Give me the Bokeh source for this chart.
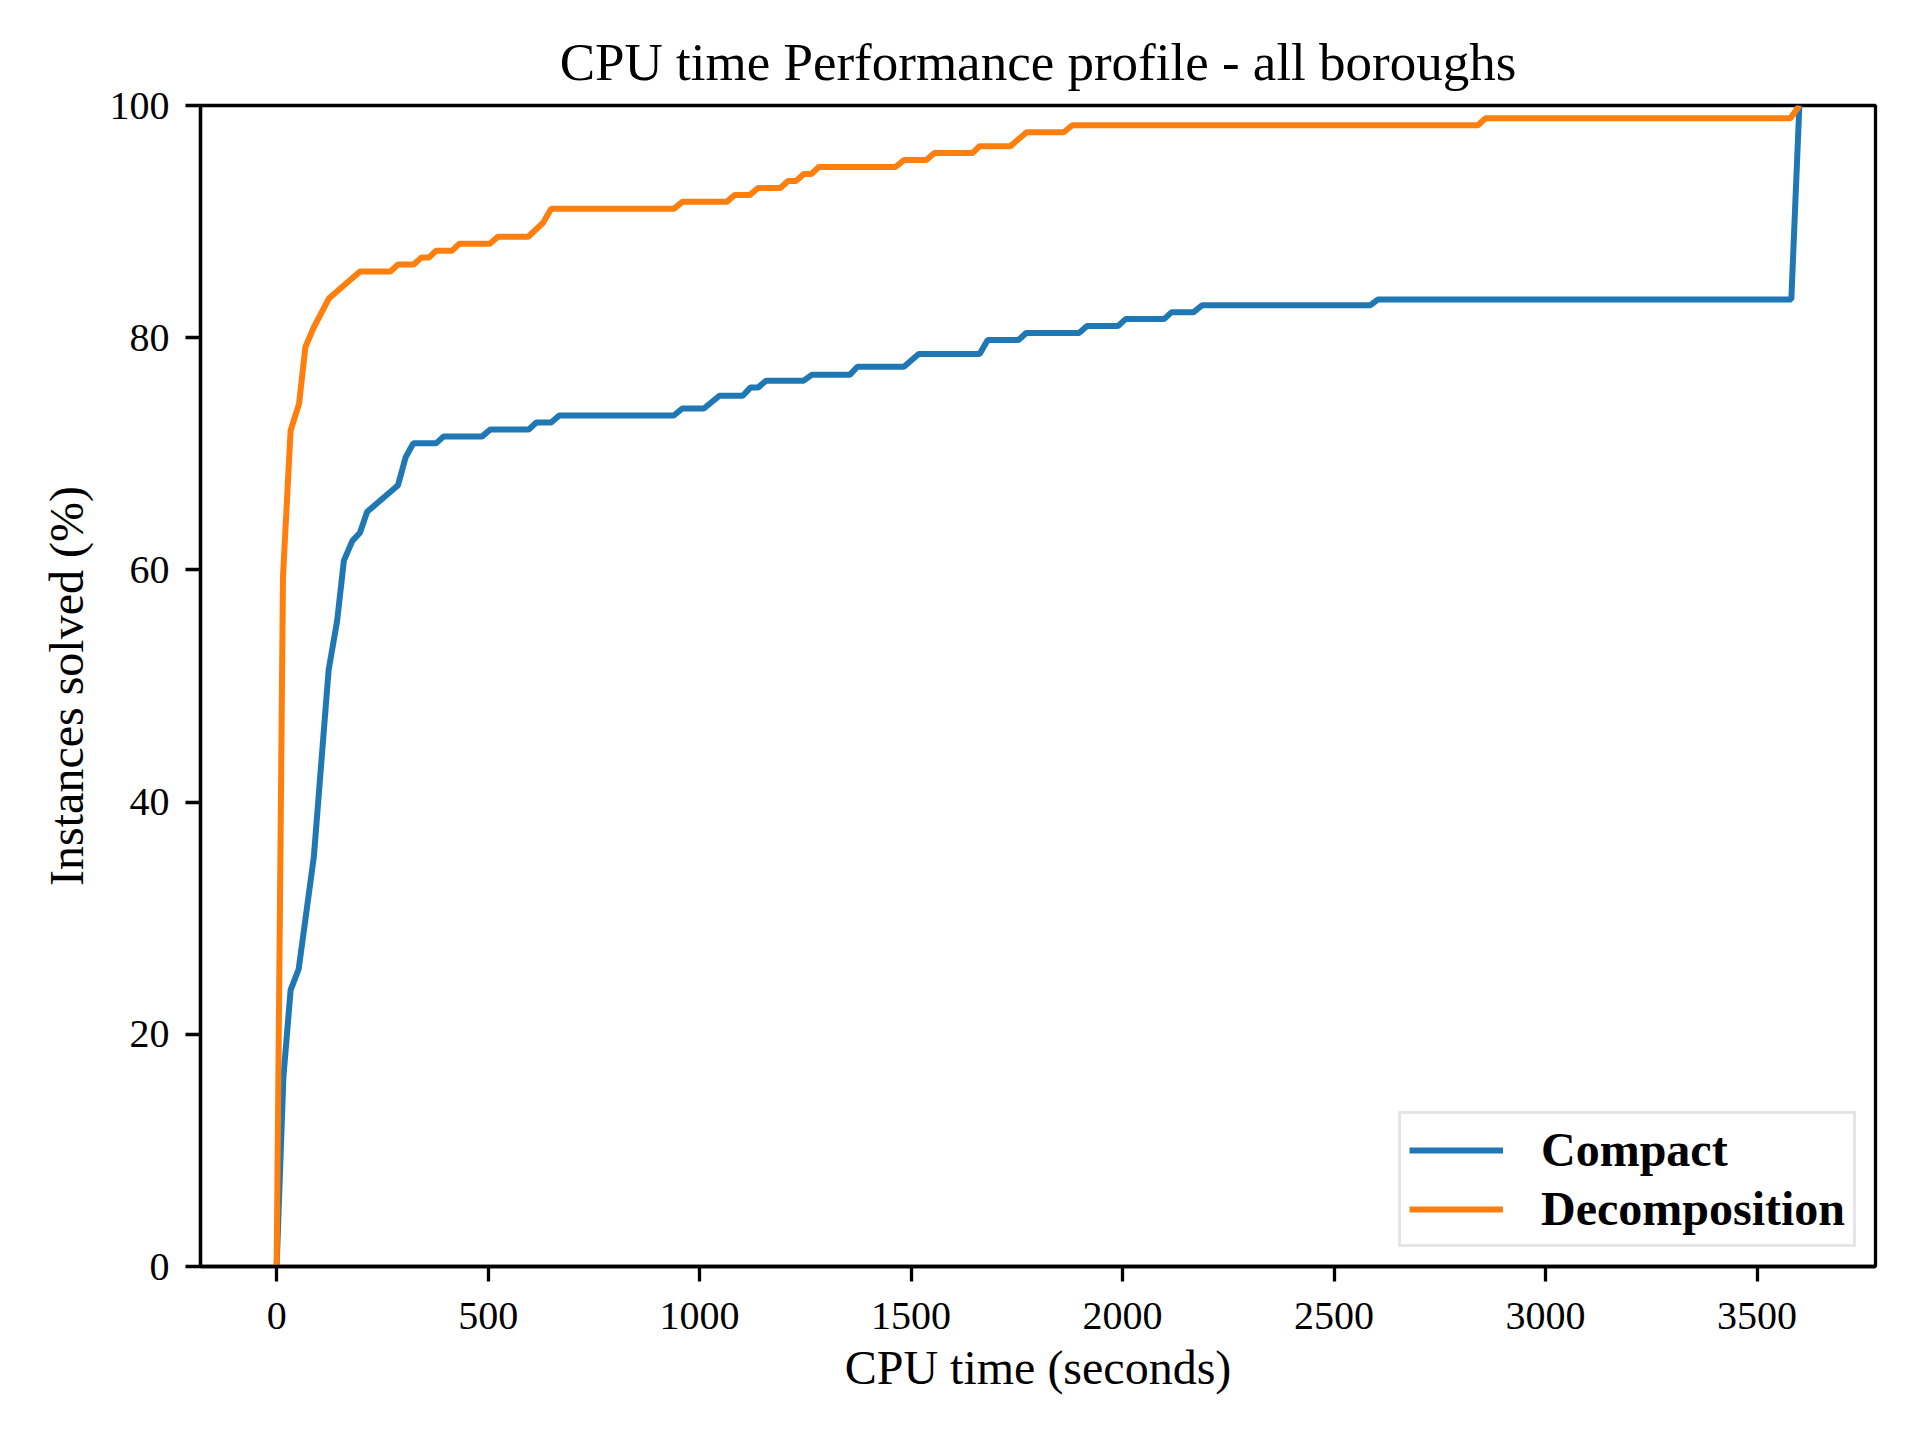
from bokeh.plotting import figure
from bokeh.models import Range1d, FixedTicker
from bokeh.embed import file_html
from bokeh.resources import INLINE

# CPU time (seconds) vs share of instances solved (%)
compact_time = [0, 16, 33, 52, 68, 88, 123, 143, 159, 179, 197, 214, 287, 305, 323, 377, 395, 486,
                505, 596, 614, 649, 668, 939, 959, 1010, 1047, 1102, 1120, 1138, 1157, 1246, 1265,
                1355, 1373, 1483, 1518, 1662, 1681, 1754, 1772, 1897, 1916, 1989, 2007, 2098, 2116,
                2168, 2188, 2586, 2604, 3581, 3600]
compact_pct = [0, 16.3, 23.8, 25.6, 29.9, 35.3, 51.4, 55.6, 60.8, 62.5, 63.2, 65.0, 67.3, 69.7, 70.9,
               70.9, 71.5, 71.5, 72.1, 72.1, 72.7, 72.7, 73.3, 73.3, 73.9, 73.9, 75.0, 75.0, 75.7,
               75.7, 76.3, 76.3, 76.8, 76.8, 77.5, 77.5, 78.6, 78.6, 79.8, 79.8, 80.4, 80.4, 81.0,
               81.0, 81.6, 81.6, 82.2, 82.2, 82.8, 82.8, 83.3, 83.3, 100]

decomp_time = [0, 15, 33, 53, 68, 88, 124, 197, 269, 287, 324, 342, 360, 377, 415, 432, 504, 523,
               595, 630, 649, 939, 959, 1064, 1083, 1119, 1138, 1191, 1209, 1228, 1246, 1264, 1282,
               1463, 1483, 1536, 1555, 1645, 1662, 1735, 1773, 1861, 1881, 2840, 2858, 3579, 3600]
decomp_pct = [0, 59.4, 72.0, 74.3, 79.2, 80.9, 83.4, 85.7, 85.7, 86.3, 86.3, 86.9, 86.9, 87.5, 87.5,
              88.1, 88.1, 88.7, 88.7, 89.9, 91.1, 91.1, 91.7, 91.7, 92.3, 92.3, 92.9, 92.9, 93.5,
              93.5, 94.1, 94.1, 94.7, 94.7, 95.3, 95.3, 95.9, 95.9, 96.5, 96.5, 97.7, 97.7, 98.3,
              98.3, 98.9, 98.9, 100]

x_ticks = [0, 500, 1000, 1500, 2000, 2500, 3000, 3500]
y_ticks = [0, 20, 40, 60, 80, 100]

FONT = "Liberation Serif"

p = figure(
    frame_width=1675, frame_height=1161,
    min_border_left=200, min_border_top=105, min_border_right=37, min_border_bottom=166,
    x_range=Range1d(-180, 3780), y_range=Range1d(0, 100),
    output_backend="svg", toolbar_location=None,
    title="CPU time Performance profile - all boroughs",
)

p.line(compact_time, compact_pct, line_color="#1f77b4", line_width=6, legend_label="Compact")
p.line(decomp_time, decomp_pct, line_color="#ff7f0e", line_width=6, legend_label="Decomposition")

p.title.align = "center"
p.title.text_font = FONT
p.title.text_font_size = "53px"
p.title.text_font_style = "normal"
p.title.text_color = "black"
p.title.standoff = 29

p.xgrid.visible = False
p.ygrid.visible = False
p.outline_line_color = "black"
p.outline_line_width = 3.3
p.outline_line_alpha = 1.0

for ax in (p.xaxis[0], p.yaxis[0]):
    ax.axis_line_width = 3.3
    ax.axis_line_color = "black"
    ax.major_tick_line_width = 3.3
    ax.major_tick_out = 15
    ax.major_tick_in = 0
    ax.minor_tick_line_color = None
    ax.major_label_text_font = FONT
    ax.major_label_text_font_size = "40px"
    ax.major_label_text_color = "black"
    ax.axis_label_text_font = FONT
    ax.axis_label_text_font_size = "48px"
    ax.axis_label_text_font_style = "normal"
    ax.axis_label_text_color = "black"
    ax.major_label_standoff = 16
    ax.axis_label_standoff = 14

p.xaxis[0].major_label_standoff = 21
p.xaxis[0].axis_label_standoff = 9

p.xaxis[0].ticker = FixedTicker(ticks=x_ticks)
p.yaxis[0].ticker = FixedTicker(ticks=y_ticks)
p.xaxis[0].axis_label = "CPU time (seconds)"
p.yaxis[0].axis_label = "Instances solved (%)"

lg = p.legend[0]
lg.location = "bottom_right"
lg.margin = 19
lg.padding = 8
lg.glyph_width = 94
lg.glyph_height = 44
lg.label_height = 44
lg.spacing = 4
lg.label_standoff = 38
lg.label_text_font = FONT
lg.label_text_font_size = "48px"
lg.label_text_font_style = "bold"
lg.label_text_color = "black"
lg.border_line_color = "#cccccc"
lg.border_line_width = 3.3
lg.background_fill_alpha = 0.8

open("out.html", "w").write(file_html(p, INLINE))
